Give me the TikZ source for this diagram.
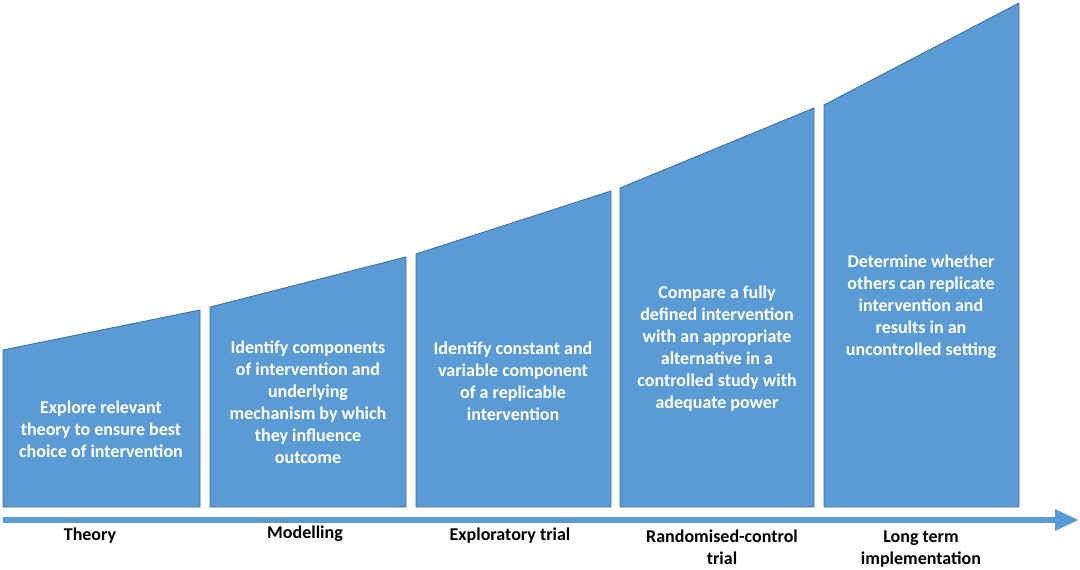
\documentclass[tikz,border=0pt]{standalone}
\usepackage{fontspec}
\setmainfont{Carlito}
\usepackage{xcolor}
\usetikzlibrary{arrows.meta}
\definecolor{stageblue}{HTML}{5B9BD5}
\definecolor{stageedge}{HTML}{41719C}

\begin{document}
\begin{tikzpicture}[x=1pt,y=-1pt,
    stage/.style={fill=stageblue,draw=stageedge,line width=0.9pt},
    stagetext/.style={text=white,font=\bfseries\fontsize{18}{22}\selectfont,align=center},
    phase/.style={text=black,font=\bfseries\fontsize{18}{21.5}\selectfont,align=center}]
    \useasboundingbox (0,0) rectangle (1080,570);
    % Stages
    \draw[stage] (3,507) -- (3,350) -- (200,310) -- (200,507) -- cycle;
    \draw[stage] (210,507) -- (210,307) -- (406,257) -- (406,507) -- cycle;
    \draw[stage] (416,507) -- (416,254) -- (611,191) -- (611,507) -- cycle;
    \draw[stage] (620,507) -- (620,188) -- (814,108) -- (814,507) -- cycle;
    \draw[stage] (824,507) -- (824,105) -- (1019,3) -- (1019,507) -- cycle;

    \node[stagetext] (explore) at (101,429) {Explore relevant\\theory to ensure best\\choice of intervention};
    \node[stagetext] (identify) at (308,402) {Identify components\\of intervention and\\underlying\\mechanism by which\\they influence\\outcome};
    \node[stagetext] (constant) at (513,381) {Identify constant and\\variable component\\of a replicable\\intervention};
    \node[stagetext] (compare) at (717,349) {Compare a fully\\defined intervention\\with an appropriate\\alternative in a\\controlled study with\\adequate power};
    \node[stagetext] (determine) at (921,307) {Determine whether\\others can replicate\\intervention and\\results in an\\uncontrolled setting};

    % Time line
    \coordinate (tstart) at (3,520);
    \coordinate (tend) at (1079,520);
    \draw[stageblue,line width=6.5pt,-{Triangle[length=24pt,width=20pt]}] (tstart) -- (tend);

    % Phases
    \node[phase] (theory) at (90,536) {Theory};
    \node[phase] (modelling) at (305,534) {Modelling};
    \node[phase] (exploratory) at (510,536) {Exploratory trial};
    \node[phase] (rct) at (722,547) {Randomised-control\\trial};
    \node[phase] (longterm) at (921,549) {Long term\\implementation};
\end{tikzpicture}
\end{document}
